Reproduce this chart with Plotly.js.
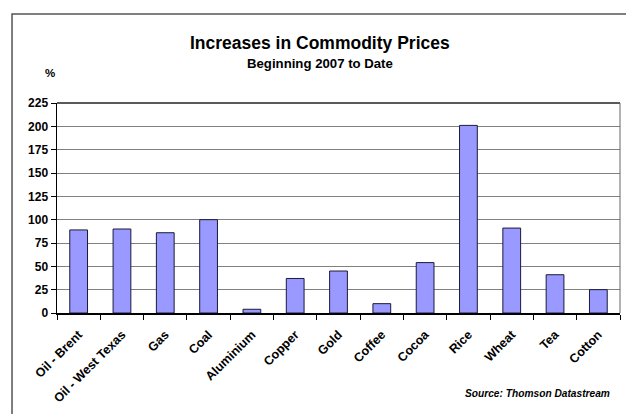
<!DOCTYPE html>
<html>
<head>
<meta charset="utf-8">
<script src="https://cdn.plot.ly/plotly-3.0.1.min.js"></script>
<style>
html,body{margin:0;padding:0;background:#fff;}
#chart{width:626px;height:414px;}
</style>
</head>
<body>
<div id="chart"></div>
<script>
const categories = ["Oil - Brent","Oil - West Texas","Gas","Coal","Aluminium","Copper","Gold","Coffee","Cocoa","Rice","Wheat","Tea","Cotton"];
const increases = [89, 90, 86, 100, 4, 37, 45, 10, 54, 201, 91, 41, 25];
const yTicks = [0, 25, 50, 75, 100, 125, 150, 175, 200, 225];
const titleText = "Increases in Commodity Prices";
const subtitleText = "Beginning 2007 to Date";
const unitText = "%";
const sourceText = "Source: Thomson Datastream";

const FONT = "Liberation Sans, Arial, sans-serif";

const trace = {
  type: "bar",
  x: categories,
  y: increases,
  marker: {color: "#9999FF", line: {color: "#1a1a3a", width: 1}},
  hoverinfo: "skip"
};

const layout = {
  width: 626, height: 414,
  margin: {l: 57, r: 6, t: 103, b: 101, pad: 0},
  paper_bgcolor: "#ffffff",
  plot_bgcolor: "#ffffff",
  bargap: 0.59,
  showlegend: false,
  font: {family: FONT, color: "#000", size: 11},
  xaxis: {
    type: "category",
    tickangle: -45,
    tickfont: {family: FONT, size: 12.5, weight: 700, color: "#000"},
    ticklabelstandoff: 8,
    showline: true, linecolor: "#000", linewidth: 1.5,
    mirror: false,
    ticks: "outside", ticklen: 5, tickcolor: "#000", tickwidth: 1,
    tickson: "boundaries",
    showgrid: false,
    zeroline: false,
    fixedrange: true
  },
  yaxis: {
    range: [0, 225],
    tickvals: yTicks,
    ticktext: yTicks.map(String),
    tickfont: {family: FONT, size: 12, weight: 700, color: "#000"},
    showline: true, linecolor: "#000", linewidth: 1.5,
    ticks: "outside", ticklen: 5, tickcolor: "#000", tickwidth: 1,
    showgrid: true, gridcolor: "#808080", gridwidth: 1,
    zeroline: false,
    fixedrange: true
  },
  shapes: [
    {type: "line", xref: "paper", yref: "paper", x0: 0, x1: 1, y0: 1, y1: 1,
     line: {color: "#222", width: 1.5}},
    {type: "line", xref: "paper", yref: "paper", x0: 1, x1: 1, y0: 0, y1: 1,
     line: {color: "#666", width: 1}},
    {type: "rect", xref: "paper", yref: "paper",
     x0: -0.0799, x1: 1.05, y0: -0.7, y1: 1.4238,
     line: {color: "#555", width: 1.5}, fillcolor: "rgba(0,0,0,0)"}
  ],
  annotations: [
    {text: titleText, xref: "paper", yref: "paper", x: 0.4671, y: 1.287, xanchor: "center", yanchor: "middle",
     showarrow: false, font: {family: FONT, size: 17.5, weight: 700, color: "#000"}},
    {text: subtitleText, xref: "paper", yref: "paper", x: 0.4671, y: 1.186, xanchor: "center", yanchor: "middle",
     showarrow: false, font: {family: FONT, size: 13.2, weight: 700, color: "#000"}},
    {text: unitText, xref: "paper", yref: "paper", x: -0.0124, y: 1.143, xanchor: "center", yanchor: "middle",
     showarrow: false, font: {family: FONT, size: 11.5, weight: 700, color: "#000"}},
    {text: sourceText, xref: "paper", yref: "paper", x: 0.9858, y: -0.3857, xanchor: "right", yanchor: "middle",
     showarrow: false, font: {family: FONT, size: 10.2, weight: 700, style: "italic", color: "#000"}}
  ]
};

Plotly.newPlot("chart", [trace], layout, {staticPlot: true, displayModeBar: false});
</script>
</body>
</html>
